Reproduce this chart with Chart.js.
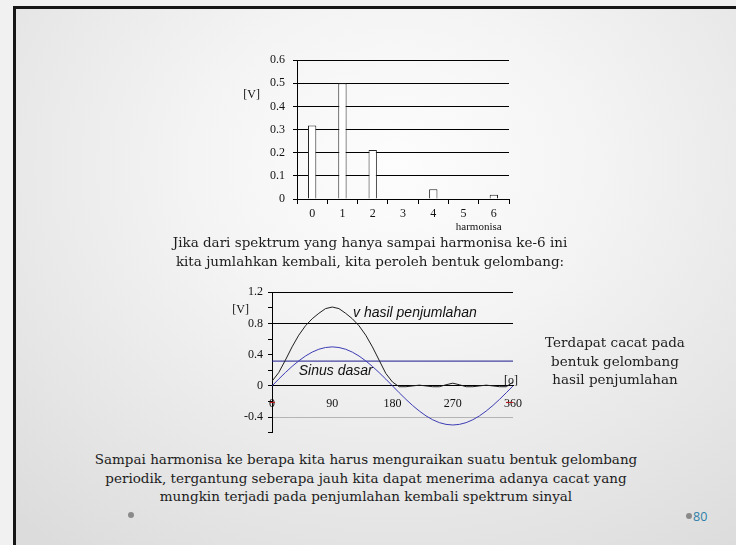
<!DOCTYPE html>
<html>
<head>
<meta charset="utf-8">
<script src="https://cdn.jsdelivr.net/npm/chart.js@4/dist/chart.umd.min.js"></script>
<style>
  html, body { margin: 0; padding: 0; }
  body { width: 736px; height: 545px; overflow: hidden; position: relative; background: #f1f1f1; }
  #slide {
    position: absolute; left: 13px; top: 6px; width: 760px; height: 560px;
    border-top: 3px solid #161616; border-left: 3px solid #161616;
    background: radial-gradient(ellipse 75% 85% at 50% 28%, #fdfdfd 0%, #f4f4f4 35%, #dcdcdc 100%);
  }
  .para {
    position: absolute; text-align: center; color: #1c1c1c;
    font-family: "DejaVu Serif", serif; font-size: 13.5px; line-height: 18.5px; white-space: nowrap;
  }
  canvas { position: absolute; }
  .dot { position: absolute; width: 6px; height: 6px; border-radius: 50%; background: #8a8a8a; }
  #pageno { position: absolute; left: 693px; top: 508px; font-family: "Open Sans", sans-serif; font-size: 12.5px; color: #2f7fa8; }
</style>
</head>
<body>
<div id="slide"></div>

<canvas id="spectrum" width="300" height="195" style="left:230px; top:45px;"></canvas>

<div class="para" style="left:0; width:740px; top:233px;">
  Jika dari spektrum yang hanya sampai harmonisa ke-6 ini<br>kita jumlahkan kembali, kita peroleh bentuk gelombang:
</div>

<canvas id="wave" width="340" height="165" style="left:200px; top:280px;"></canvas>

<div class="para" style="left:515px; width:200px; top:333px;">
  Terdapat cacat pada<br>bentuk gelombang<br>hasil penjumlahan
</div>

<div class="para" style="left:0; width:732px; top:450px;">
  Sampai harmonisa ke berapa kita harus menguraikan suatu bentuk gelombang<br>periodik, tergantung seberapa jauh kita dapat menerima adanya cacat yang<br>mungkin terjadi pada penjumlahan kembali spektrum sinyal
</div>

<div class="dot" style="left:128px; top:512px;"></div>
<div class="dot" style="left:686px; top:513px;"></div>
<div id="pageno">80</div>

<script>
// Harmonic spectrum (amplitudes in volts)
const harmonics = ['0', '1', '2', '3', '4', '5', '6'];
const amplitudes = [0.318, 0.5, 0.212, 0, 0.042, 0, 0.018];

// Waveform sampled every 10 degrees
const angles = [0, 10, 20, 30, 40, 50, 60, 70, 80, 90, 100, 110, 120, 130, 140, 150, 160, 170, 180,
                190, 200, 210, 220, 230, 240, 250, 260, 270, 280, 290, 300, 310, 320, 330, 340, 350, 360];
const sumWave = [0.06, 0.17, 0.33, 0.50, 0.65, 0.77, 0.86, 0.93, 0.99, 1.01, 0.99, 0.93, 0.86, 0.77, 0.65, 0.50, 0.33, 0.16, 0.05,
                 -0.01, -0.01, 0.00, 0.01, 0.00, -0.01, -0.01, 0.015, 0.035, 0.015, -0.01, -0.01, 0.00, 0.01, 0.00, -0.01, -0.01, 0.05];
const baseSine = [0, 0.087, 0.171, 0.25, 0.321, 0.383, 0.433, 0.470, 0.492, 0.5, 0.492, 0.470, 0.433, 0.383, 0.321, 0.25, 0.171, 0.087, 0,
                  -0.087, -0.171, -0.25, -0.321, -0.383, -0.433, -0.470, -0.492, -0.5, -0.492, -0.470, -0.433, -0.383, -0.321, -0.25, -0.171, -0.087, 0];
const dcLevel = amplitudes[0];

const angleTicks = [0, 90, 180, 270, 360];

const serif = 'Liberation Serif';

// Free text placed in data coordinates (with optional pixel offsets)
const notesPlugin = {
  id: 'notes',
  afterDraw(chart, args, opts) {
    const ctx = chart.ctx;
    const xs = chart.scales.x, ys = chart.scales.y;
    ctx.save();
    (opts.items || []).forEach(it => {
      const px = (it.x === undefined ? chart.chartArea.left : xs.getPixelForValue(it.x)) + (it.dx || 0);
      const py = (it.y === undefined ? chart.chartArea.bottom : ys.getPixelForValue(it.y)) + (it.dy || 0);
      if (it.dash) {
        ctx.strokeStyle = it.color; ctx.lineWidth = 1;
        ctx.beginPath(); ctx.moveTo(px, py + 0.5); ctx.lineTo(px + it.dash, py + 0.5); ctx.stroke();
        return;
      }
      ctx.font = it.font;
      ctx.fillStyle = it.color || '#111';
      ctx.textAlign = it.align || 'left';
      ctx.textBaseline = 'middle';
      ctx.fillText(it.text, px, py);
    });
    ctx.restore();
  }
};

new Chart(document.getElementById('spectrum'), {
  type: 'bar',
  data: {
    labels: harmonics,
    datasets: [{
      data: amplitudes,
      backgroundColor: '#ffffff',
      borderColor: '#222222',
      borderWidth: 1,
      barPercentage: 0.55,
      categoryPercentage: 0.5
    }]
  },
  options: {
    responsive: false,
    animation: false,
    events: [],
    layout: { padding: { top: 11, right: 21, left: 0, bottom: 0 } },
    plugins: {
      legend: { display: false },
      tooltip: { enabled: false },
      notes: {
        items: [
          { text: '[V]', y: 0.45, dx: -37, align: 'right', font: `12px "${serif}"`, color: '#111' },
          { text: 'harmonisa', x: 5.5, y: 0, dy: 28, align: 'center', font: `11px "${serif}"`, color: '#111' }
        ]
      }
    },
    scales: {
      x: {
        grid: { display: true, drawOnChartArea: false, drawTicks: true, tickLength: 5, color: '#000', offset: true },
        border: { display: true, color: '#000', width: 1 },
        ticks: { color: '#111', font: { family: serif, size: 12 }, padding: 3, autoSkip: false },
        afterFit: s => { s.height = 41; }
      },
      y: {
        min: 0, max: 0.6,
        ticks: { stepSize: 0.1, color: '#111', font: { family: serif, size: 12 }, padding: 8, autoSkip: false },
        grid: { color: '#000', lineWidth: 1, tickLength: 4 },
        border: { display: true, color: '#000', width: 1 },
        afterFit: s => { s.width = 67; }
      }
    }
  },
  plugins: [notesPlugin]
});

const isMultiple = (v, step) => Math.abs(v / step - Math.round(v / step)) < 1e-6;

new Chart(document.getElementById('wave'), {
  type: 'line',
  data: {
    datasets: [
      {
        label: 'v hasil penjumlahan',
        data: angles.map((a, i) => ({ x: a, y: sumWave[i] })),
        borderColor: '#1e1e1e', borderWidth: 1, pointRadius: 0, tension: 0, fill: false
      },
      {
        label: 'Sinus dasar',
        data: angles.map((a, i) => ({ x: a, y: baseSine[i] })),
        borderColor: '#3c3cb4', borderWidth: 1, pointRadius: 0, tension: 0, fill: false
      },
      {
        label: 'dc',
        data: [{ x: angles[0], y: dcLevel }, { x: angles[angles.length - 1], y: dcLevel }],
        borderColor: '#1a1a8c', borderWidth: 1, pointRadius: 0, fill: false
      }
    ]
  },
  options: {
    responsive: false,
    animation: false,
    events: [],
    layout: { padding: { top: 11, right: 27, left: 0, bottom: 12 } },
    plugins: {
      legend: { display: false },
      tooltip: { enabled: false },
      notes: {
        items: [
          { text: '[V]', y: 0.98, dx: -23, align: 'right', font: `12px "${serif}"`, color: '#111' },
          { text: 'v hasil penjumlahan', x: 121, y: 0.93, font: 'italic 14px "Liberation Sans"', color: '#111' },
          { text: 'Sinus dasar', x: 40, y: 0.19, font: 'italic 14px "Liberation Sans"', color: '#111' },
          { text: '[o]', x: 357, y: 0, dy: -5, align: 'center', font: `12px "${serif}"`, color: '#111' },
          { dash: 5, x: 0, y: 0, dx: -2, dy: 16, color: '#c01818' },
          { dash: 7, x: 360, y: 0, dx: -7, dy: 16, color: '#c01818' }
        ]
      }
    },
    scales: {
      x: {
        type: 'linear',
        position: { y: 0 },
        min: 0, max: 360,
        afterBuildTicks: s => { s.ticks = angleTicks.map(v => ({ value: v })); },
        ticks: { color: '#111', font: { family: serif, size: 12 }, padding: 11, autoSkip: false, maxRotation: 0 },
        grid: { display: true, drawOnChartArea: false, drawTicks: false },
        border: { display: true, color: '#000', width: 1 }
      },
      y: {
        min: -0.6, max: 1.2,
        ticks: {
          stepSize: 0.2, autoSkip: false, color: '#111', font: { family: serif, size: 12 }, padding: 5,
          callback: v => isMultiple(v, 0.4) ? (Math.abs(v) < 1e-9 ? '0' : (Math.round(v * 10) / 10).toString()) : ''
        },
        grid: {
          tickLength: 4,
          tickColor: '#000',
          color: c => {
            const v = c.tick ? c.tick.value : NaN;
            if (Math.abs(v - 1.2) < 1e-9 || Math.abs(v - 0.8) < 1e-9 || Math.abs(v) < 1e-9) return '#000';
            if (Math.abs(v + 0.4) < 1e-9) return '#b4b4b4';
            return 'rgba(0,0,0,0)';
          }
        },
        border: { display: true, color: '#000', width: 1 },
        afterFit: s => { s.width = 72; }
      }
    }
  },
  plugins: [notesPlugin]
});
</script>
</body>
</html>
